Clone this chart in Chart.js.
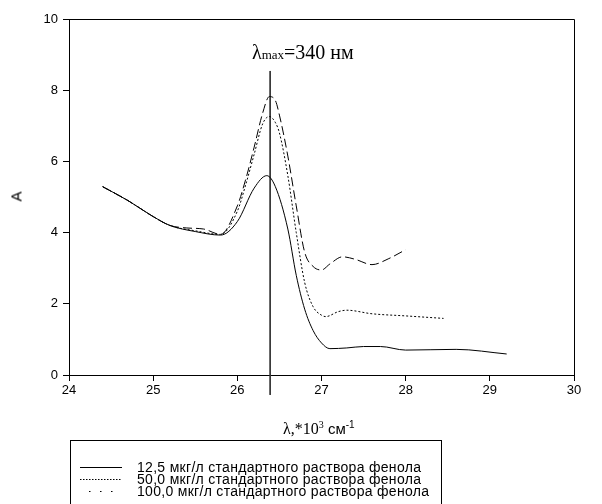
<!DOCTYPE html>
<html>
<head>
<meta charset="utf-8">
<script src="https://cdn.jsdelivr.net/npm/chart.js@4.4.1/dist/chart.umd.min.js"></script>
<style>
    body { margin: 0; background: #fff; }
    #wrap { position: relative; width: 602px; height: 504px; overflow: hidden; }
    #chart { position: absolute; left: 0; top: 0; }
    .serif { font-family: "Liberation Serif", "DejaVu Serif", serif; }
    .sans { font-family: "Liberation Sans", Arial, sans-serif; }
    #peak-label { position: absolute; left: 252px; top: 41px; font-size: 20px; white-space: nowrap; }
    #peak-label .sub { font-size: 13px; }
    #x-title { position: absolute; left: 283px; top: 419px; white-space: nowrap; font-size: 16px; }
    #x-title .sans { font-size: 15px; }
    #x-title sup { font-size: 10px; vertical-align: 6px; }
    #y-title { position: absolute; left: 11px; top: 188px; font-size: 15px; transform: rotate(-90deg); }
    #legend { position: absolute; left: 70px; top: 440px; width: 370px; height: 80px; border: 1px solid #000; }
    .row { position: absolute; left: 0; height: 13px; width: 370px; font-size: 14px; letter-spacing: 0.3px; line-height: 13px; white-space: nowrap; }
    .row span { position: absolute; left: 66px; top: 0; }
    .row svg { position: absolute; left: 9px; top: 0; }
</style>
</head>
<body>
<div id="wrap">
    <canvas id="chart" width="602" height="504"></canvas>
    <div id="peak-label" class="serif">λ<span class="sub">max</span>=340 нм</div>
    <div id="x-title"><span class="serif">λ,*10<sup>3</sup></span><span class="sans"> см<sup>-1</sup></span></div>
    <div id="y-title" class="sans">A</div>
    <div id="legend" class="sans">
        <div class="row" style="top:20px">
            <svg width="44" height="13"><line x1="0" y1="6.5" x2="42" y2="6.5" stroke="#000" stroke-width="1"/></svg>
            <span>12,5 мкг/л стандартного раствора фенола</span>
        </div>
        <div class="row" style="top:32px">
            <svg width="44" height="13"><line x1="0" y1="6.5" x2="42" y2="6.5" stroke="#000" stroke-width="1" stroke-dasharray="1.5,1.5"/></svg>
            <span>50,0 мкг/л стандартного раствора фенола</span>
        </div>
        <div class="row" style="top:44px">
            <svg width="44" height="13"><line x1="9" y1="6.5" x2="42" y2="6.5" stroke="#000" stroke-width="1.2" stroke-dasharray="1.5,9.5"/></svg>
            <span>100,0 мкг/л стандартного раствора фенола</span>
        </div>
    </div>
</div>
<script>
// wavenumber, *10^3 cm-1
const wave125 = [24.4, 24.7, 25.0, 25.2, 25.5, 25.8, 26.0, 26.2, 26.35, 26.45, 26.6, 26.7, 26.8, 26.9, 27.0, 27.1, 27.3, 27.5, 27.7, 28.0, 28.3, 28.6, 29.2];
const abs125 = [5.29, 4.9, 4.45, 4.2, 4.03, 3.93, 4.31, 5.25, 5.6, 5.3, 4.1, 2.8, 1.85, 1.25, 0.9, 0.74, 0.76, 0.8, 0.8, 0.7, 0.71, 0.72, 0.59];

const wave50 = [24.4, 24.7, 25.0, 25.2, 25.5, 25.8, 26.0, 26.1, 26.2, 26.3, 26.38, 26.45, 26.5, 26.6, 26.7, 26.8, 26.9, 27.0, 27.05, 27.2, 27.3, 27.6, 28.0, 28.45];
const abs50 = [5.29, 4.9, 4.45, 4.2, 4.05, 3.95, 4.6, 5.35, 6.2, 7.05, 7.26, 7.1, 6.8, 5.6, 4.0, 2.6, 1.92, 1.68, 1.64, 1.78, 1.82, 1.72, 1.66, 1.59];

const wave100 = [24.4, 24.7, 25.0, 25.2, 25.4, 25.6, 25.8, 26.0, 26.1, 26.2, 26.3, 26.38, 26.45, 26.5, 26.6, 26.7, 26.8, 26.9, 27.0, 27.1, 27.25, 27.4, 27.6, 27.8, 28.0];
const abs100 = [5.29, 4.9, 4.45, 4.2, 4.13, 4.1, 3.95, 4.75, 5.5, 6.4, 7.35, 7.82, 7.72, 7.3, 6.15, 4.75, 3.45, 3.05, 2.95, 3.12, 3.32, 3.25, 3.1, 3.27, 3.52];

// lambda max marker (340 nm)
const markerX = [26.39, 26.39];
const markerY = [8.54, -0.56];

const xTicks = [24, 25, 26, 27, 28, 29, 30];
const yTicks = [0, 2, 4, 6, 8, 10];

function toPoints(xs, ys) {
    return xs.map((x, i) => ({ x: x, y: ys[i] }));
}

// draws the top and right sides of the frame
const frameBox = {
    id: 'frameBox',
    afterDraw(chart) {
        const a = chart.chartArea;
        const ctx = chart.ctx;
        ctx.save();
        ctx.strokeStyle = '#000';
        ctx.lineWidth = 1;
        ctx.beginPath();
        ctx.moveTo(Math.round(a.left) + 0.5, Math.round(a.top) + 0.5);
        ctx.lineTo(Math.round(a.right) + 0.5, Math.round(a.top) + 0.5);
        ctx.lineTo(Math.round(a.right) + 0.5, Math.round(a.bottom) + 0.5);
        ctx.stroke();
        ctx.restore();
    }
};

const lineBase = {
    borderColor: '#000',
    borderWidth: 1,
    pointRadius: 0,
    fill: false,
    cubicInterpolationMode: 'monotone'
};

new Chart(document.getElementById('chart'), {
    type: 'line',
    data: {
        datasets: [
            Object.assign({ label: '12,5', data: toPoints(wave125, abs125) }, lineBase),
            Object.assign({ label: '50,0', data: toPoints(wave50, abs50), borderDash: [2, 2] }, lineBase),
            Object.assign({ label: '100,0', data: toPoints(wave100, abs100), borderDash: [9, 4] }, lineBase),
            {
                label: 'max',
                data: toPoints(markerX, markerY),
                borderColor: '#333',
                borderWidth: 1,
                pointRadius: 0,
                tension: 0,
                clip: false
            }
        ]
    },
    options: {
        responsive: false,
        animation: false,
        devicePixelRatio: 1,
        layout: { padding: { top: 19, right: 28, left: 0, bottom: 0 } },
        plugins: {
            legend: { display: false },
            tooltip: { enabled: false }
        },
        scales: {
            x: {
                type: 'linear',
                min: 24,
                max: 30,
                afterFit: function (scale) { scale.height = 129; },
                afterBuildTicks: function (scale) { scale.ticks = xTicks.map(v => ({ value: v })); },
                grid: { drawOnChartArea: false, drawTicks: true, tickLength: 6, color: '#000' },
                border: { color: '#000', width: 1 },
                ticks: {
                    padding: 2,
                    color: '#000',
                    font: { family: 'Liberation Sans', size: 13 }
                }
            },
            y: {
                min: 0,
                max: 10,
                afterFit: function (scale) { scale.width = 69; },
                afterBuildTicks: function (scale) { scale.ticks = yTicks.map(v => ({ value: v })); },
                grid: { drawOnChartArea: false, drawTicks: true, tickLength: 6, color: '#000' },
                border: { color: '#000', width: 1 },
                ticks: {
                    padding: 5,
                    color: '#000',
                    font: { family: 'Liberation Sans', size: 13 }
                }
            }
        }
    },
    plugins: [frameBox]
});
</script>
</body>
</html>
